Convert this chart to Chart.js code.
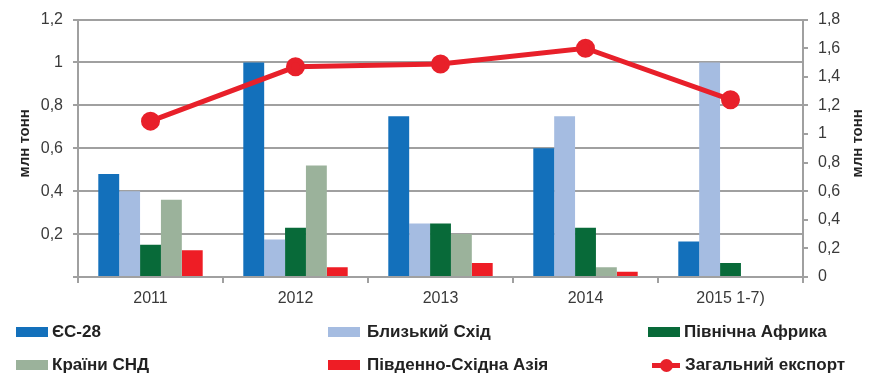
<!DOCTYPE html>
<html>
<head>
<meta charset="utf-8">
<script src="https://cdn.jsdelivr.net/npm/chart.js@4/dist/chart.umd.min.js"></script>
<style>
  html, body { margin: 0; padding: 0; background: #fff; }
  #wrap { position: relative; width: 881px; height: 392px; }
  #exportChart { position: absolute; left: 0; top: 0; }
  .legend-item {
    position: absolute; height: 20px; display: flex; align-items: center;
    font: bold 17px "Liberation Sans", Arial, sans-serif; color: #222;
    white-space: nowrap;
  }
  .legend-box { width: 32px; height: 10px; margin-right: 4px; }
  .legend-line { position: relative; width: 28px; height: 5px; margin: 0 5px 0 4px; }
  .legend-line span {
    position: absolute; left: 8px; top: -4px; width: 13px; height: 13px; border-radius: 50%;
  }
</style>
</head>
<body>
<div id="wrap">
  <canvas id="exportChart" width="881" height="392"></canvas>
</div>
<script>
var years = ['2011', '2012', '2013', '2014', '2015 1-7)'];

var eu28 = [0.48, 1.0, 0.75, 0.60, 0.165];
var middleEast = [0.40, 0.175, 0.25, 0.75, 1.0];
var northAfrica = [0.15, 0.23, 0.25, 0.23, 0.065];
var cis = [0.36, 0.52, 0.20, 0.045, null];
var seAsia = [0.125, 0.045, 0.065, 0.025, null];
var totalExport = [1.09, 1.47, 1.49, 1.60, 1.24];

var leftTicks = [0, 0.2, 0.4, 0.6, 0.8, 1, 1.2];
var rightTicks = [0, 0.2, 0.4, 0.6, 0.8, 1, 1.2, 1.4, 1.6, 1.8];

var gridColor = '#a0a0a0';
var textColor = '#3a3a3a';
var fontFamily = '"Liberation Sans", Arial, sans-serif';

function fmt(v) {
    return String(Math.round(v * 10) / 10).replace('.', ',');
}

// both axis titles read bottom-to-top, so draw them ourselves
var axisTitles = {
    id: 'axisTitles',
    afterDraw: function(chart) {
        var ctx = chart.ctx;
        var area = chart.chartArea;
        var midY = (area.top + area.bottom) / 2 - 5;
        ctx.save();
        ctx.font = 'bold 15px ' + fontFamily;
        ctx.fillStyle = '#222';
        ctx.textAlign = 'center';
        ctx.textBaseline = 'middle';
        [25, 858].forEach(function(x) {
            ctx.save();
            ctx.translate(x, midY);
            ctx.rotate(-Math.PI / 2);
            ctx.fillText('млн тонн', 0, 0);
            ctx.restore();
        });
        ctx.restore();
    }
};

var datasets = [
    { label: 'ЄС-28', data: eu28, backgroundColor: '#1370bb' },
    { label: 'Близький Схід', data: middleEast, backgroundColor: '#a5bce1' },
    { label: 'Північна Африка', data: northAfrica, backgroundColor: '#086a39' },
    { label: 'Країни СНД', data: cis, backgroundColor: '#9bb29b' },
    { label: 'Південно-Східна Азія', data: seAsia, backgroundColor: '#ee1d25' }
].map(function(d) {
    d.type = 'bar';
    d.yAxisID = 'y';
    d.order = 1;
    d.categoryPercentage = 0.72;
    d.barPercentage = 1;
    return d;
});

datasets.push({
    type: 'line',
    label: 'Загальний експорт',
    data: totalExport,
    yAxisID: 'y1',
    order: 0,
    borderColor: '#e8202a',
    backgroundColor: '#e8202a',
    borderWidth: 5,
    pointRadius: 7,
    pointHoverRadius: 7,
    tension: 0
});

var ctx = document.getElementById('exportChart').getContext('2d');
var chart = new Chart(ctx, {
    type: 'bar',
    data: { labels: years, datasets: datasets },
    plugins: [axisTitles],
    options: {
        responsive: false,
        animation: false,
        layout: { padding: { top: 19 } },
        plugins: {
            legend: { display: false },
            tooltip: { enabled: false }
        },
        scales: {
            x: {
                afterFit: function(s) { s.height = 392 - 277; },
                grid: { offset: true, drawOnChartArea: false, color: gridColor, lineWidth: 2, tickLength: 6 },
                border: { color: gridColor, width: 2 },
                ticks: { color: textColor, font: { family: fontFamily, size: 16 }, padding: 6 }
            },
            y: {
                position: 'left',
                min: 0, max: 1.2,
                afterFit: function(s) { s.width = 78; },
                afterBuildTicks: function(s) { s.ticks = leftTicks.map(function(v) { return { value: v }; }); },
                grid: { color: gridColor, lineWidth: 2, tickLength: 5 },
                border: { color: gridColor, width: 2 },
                ticks: {
                    color: textColor, font: { family: fontFamily, size: 16 }, padding: 10,
                    callback: function(v) { return v === 0 ? '' : fmt(v); }
                }
            },
            y1: {
                position: 'right',
                min: 0, max: 1.8,
                afterFit: function(s) { s.width = 78; },
                afterBuildTicks: function(s) { s.ticks = rightTicks.map(function(v) { return { value: v }; }); },
                grid: { drawOnChartArea: false, color: gridColor, lineWidth: 2, tickLength: 5 },
                border: { color: gridColor, width: 2 },
                ticks: {
                    color: textColor, font: { family: fontFamily, size: 16 }, padding: 10,
                    callback: function(v) { return fmt(v); }
                }
            }
        }
    }
});

// html legend, three columns by two rows like the original
var legendCols = [16, 328, 648];
var legendRows = [322, 355];
var wrap = document.getElementById('wrap');
chart.data.datasets.forEach(function(ds, i) {
    var item = document.createElement('div');
    item.className = 'legend-item';
    item.style.left = legendCols[i % 3] + 'px';
    item.style.top = legendRows[Math.floor(i / 3)] + 'px';
    var mark = document.createElement('div');
    if (ds.type === 'line') {
        mark.className = 'legend-line';
        mark.style.background = ds.borderColor;
        var dot = document.createElement('span');
        dot.style.background = ds.borderColor;
        mark.appendChild(dot);
    } else {
        mark.className = 'legend-box';
        mark.style.background = ds.backgroundColor;
        if (i % 3 === 1) mark.style.marginRight = '7px';
    }
    item.appendChild(mark);
    item.appendChild(document.createTextNode(ds.label));
    wrap.appendChild(item);
});
</script>
</body>
</html>
